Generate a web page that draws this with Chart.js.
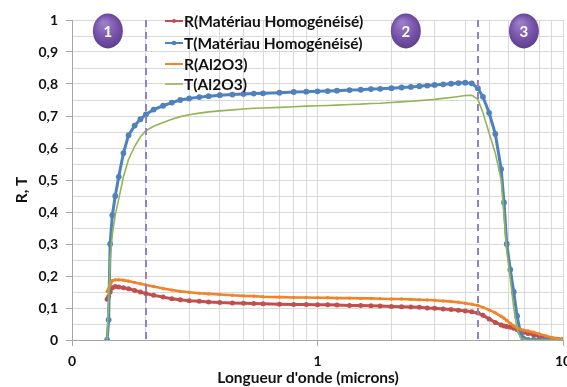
<!DOCTYPE html>
<html><head><meta charset="utf-8">
<script src="https://cdn.jsdelivr.net/npm/chart.js"></script>
<style>html,body{margin:0;padding:0;background:#fff}#wrap{width:567px;height:387px;position:relative}canvas{display:block}</style>
</head><body><div id="wrap"><canvas id="c" width="567" height="387"></canvas></div>
<script>
const wavelength = [0.139,0.141,0.143,0.146,0.15,0.155,0.162,0.17,0.18,0.19,0.2,0.215,0.235,0.255,0.276,0.3,0.33,0.36,0.4,0.45,0.5,0.55,0.6,0.7,0.8,0.9,1.0,1.1,1.2,1.35,1.5,1.65,1.8,2.0,2.2,2.4,2.6,2.8,3.0,3.25,3.5,3.75,4.0,4.25,4.5,4.72,5.0,5.3,5.6,5.75,5.9,6.1,6.3,6.5,6.7,6.9,7.2,7.6,8.0,8.5,9.0,9.5,10.0];
const rHomog = [0.127,0.135,0.15,0.163,0.167,0.166,0.163,0.16,0.155,0.15,0.145,0.14,0.134,0.129,0.126,0.123,0.121,0.119,0.117,0.116,0.115,0.114,0.113,0.112,0.111,0.111,0.11,0.11,0.109,0.108,0.108,0.107,0.106,0.105,0.104,0.103,0.102,0.1,0.099,0.097,0.095,0.093,0.091,0.088,0.084,0.077,0.066,0.055,0.047,0.044,0.042,0.04,0.037,0.033,0.028,0.024,0.02,0.016,0.011,0.007,0.004,0.002,0.001];
const tHomog = [0,0.063,0.30,0.39,0.45,0.51,0.584,0.64,0.67,0.69,0.705,0.72,0.732,0.742,0.75,0.755,0.759,0.762,0.765,0.767,0.769,0.77,0.771,0.773,0.775,0.776,0.777,0.778,0.779,0.781,0.782,0.784,0.785,0.787,0.789,0.791,0.793,0.795,0.797,0.799,0.801,0.803,0.804,0.802,0.787,0.76,0.71,0.644,0.534,0.43,0.30,0.22,0.15,0.075,0.025,0.004,0,0,0,0,0,0,0];
const rAl2O3 = [0.152,0.16,0.172,0.185,0.188,0.188,0.187,0.184,0.18,0.176,0.172,0.167,0.161,0.156,0.152,0.149,0.146,0.144,0.142,0.14,0.138,0.137,0.135,0.134,0.133,0.133,0.132,0.132,0.131,0.131,0.13,0.13,0.129,0.128,0.128,0.127,0.126,0.125,0.124,0.122,0.12,0.118,0.115,0.112,0.108,0.102,0.094,0.085,0.074,0.068,0.061,0.052,0.044,0.038,0.034,0.031,0.028,0.024,0.019,0.013,0.008,0.005,0.003];
const tAl2O3 = [0,0.12,0.25,0.33,0.39,0.44,0.51,0.565,0.605,0.635,0.654,0.668,0.68,0.69,0.698,0.704,0.709,0.713,0.716,0.719,0.722,0.724,0.725,0.727,0.729,0.731,0.732,0.733,0.734,0.736,0.737,0.739,0.74,0.742,0.744,0.746,0.748,0.75,0.752,0.755,0.758,0.761,0.764,0.765,0.752,0.71,0.647,0.584,0.5,0.39,0.28,0.19,0.1,0.035,0.008,0.002,0,0,0,0,0,0,0];
const seriesLabels = ['R(Matériau Homogénéisé)','T(Matériau Homogénéisé)','R(Al2O3)','T(Al2O3)'];
const seriesColors = ['#C0504D','#4F81BD','#F0842A','#92B556'];
const xTickValues = [0.1,0.2,0.3,0.4,0.5,0.6,0.7,0.8,0.9,1,2,3,4,5,6,7,8,9,10];
const xTickLabels = {'0.1':'0','1':'1','10':'10'};
const zoneBounds = [0.2, 4.5];
const zoneLabels = ['1','2','3'];
const zoneLabelX = [0.14, 2.29, 6.93];
const zoneLabelY = 0.966;
const xTitle = "Longueur d'onde (microns)";
const yTitle = 'R, T';

const FONT = 'Lato, "Open Sans", sans-serif';
const seriesValues = [rHomog, tHomog, rAl2O3, tAl2O3];
const pointR = [2.5, 2.9, 1.7, 0];
const lineW = [3, 3, 2.6, 1.6];

const datasets = seriesValues.map((vals, i) => ({
  label: seriesLabels[i],
  data: wavelength.map((w, k) => ({x: w, y: vals[k]})),
  showLine: true,
  borderColor: seriesColors[i],
  backgroundColor: seriesColors[i],
  borderWidth: lineW[i],
  pointRadius: pointR[i],
  pointBorderWidth: 0,
  pointHoverRadius: 0,
  tension: 0,
  order: 3 - i
}));

const overlay = {
  id: 'overlay',
  afterDatasetsDraw(chart) {
    const {ctx, chartArea: a, scales: {x, y}} = chart;
    ctx.save();
    ctx.strokeStyle = '#8F82C6';
    ctx.lineWidth = 2;
    ctx.setLineDash([7, 5]);
    zoneBounds.forEach(b => {
      const px = Math.round(x.getPixelForValue(b));
      ctx.beginPath(); ctx.moveTo(px, a.top); ctx.lineTo(px, a.bottom); ctx.stroke();
    });
    ctx.setLineDash([]);
    zoneLabels.forEach((t, i) => {
      const cx = x.getPixelForValue(zoneLabelX[i]);
      const cy = y.getPixelForValue(zoneLabelY);
      const g = ctx.createRadialGradient(cx - 4, cy - 8, 2, cx, cy, 19);
      g.addColorStop(0, '#9A7CC8');
      g.addColorStop(0.6, '#7451A6');
      g.addColorStop(1, '#5A3A8A');
      ctx.fillStyle = g;
      ctx.beginPath(); ctx.ellipse(cx, cy, 15, 17.5, 0, 0, Math.PI * 2); ctx.fill();
      ctx.fillStyle = '#fff';
      ctx.font = 'bold 15px ' + FONT;
      ctx.textAlign = 'center'; ctx.textBaseline = 'middle';
      ctx.fillText(t, cx, cy + 1);
    });
    const ly = [21, 43, 64, 84];
    ctx.font = 'bold 15.5px ' + FONT;
    ctx.textAlign = 'left'; ctx.textBaseline = 'middle';
    chart.data.datasets.forEach((ds, i) => {
      const yy = ly[i];
      ctx.strokeStyle = ds.borderColor;
      ctx.lineWidth = i === 3 ? 1.6 : 2;
      ctx.beginPath(); ctx.moveTo(165, yy); ctx.lineTo(183, yy); ctx.stroke();
      if (pointR[i] > 0) {
        ctx.fillStyle = ds.backgroundColor;
        ctx.beginPath(); ctx.arc(174, yy, pointR[i] * 0.8, 0, Math.PI * 2); ctx.fill();
      }
      ctx.fillStyle = '#111';
      ctx.fillText(ds.label, 184, yy + 1);
    });
    ctx.fillStyle = '#111';
    ctx.font = 'bold 15.5px ' + FONT;
    ctx.textAlign = 'center'; ctx.textBaseline = 'middle';
    ctx.fillText(xTitle, 308, 378);
    ctx.translate(22, 190); ctx.rotate(-Math.PI / 2);
    ctx.fillText(yTitle, 0, 0);
    ctx.restore();
  }
};

function yLabel(v) {
  const r = Math.round(v * 100);
  if (r % 10 !== 0) return '';
  if (r % 100 === 0) return String(r / 100);
  return (r / 100).toFixed(1).replace('.', ',');
}

new Chart(document.getElementById('c'), {
  type: 'scatter',
  data: {datasets},
  options: {
    responsive: false,
    animation: false,
    events: [],
    layout: {padding: {top: 20, right: 4, left: 0, bottom: 0}},
    plugins: {legend: {display: false}, tooltip: {enabled: false}},
    scales: {
      x: {
        type: 'logarithmic', min: 0.1, max: 10,
        afterBuildTicks: s => { s.ticks = xTickValues.map(v => ({value: v})); },
        afterFit: s => { s.height = 47; s.paddingLeft = 0; s.paddingRight = 0; },
        ticks: {
          autoSkip: false, maxRotation: 0, minRotation: 0, padding: 7,
          color: '#111', font: {family: FONT, size: 14, weight: 'bold'},
          callback: v => { const k = String(+v.toFixed(4)); return xTickLabels[k] !== undefined ? xTickLabels[k] : ''; }
        },
        grid: {
          color: '#D9D9D9', lineWidth: 1, tickLength: 6,
          tickColor: c => (xTickLabels[String(+c.tick.value.toFixed(4))] !== undefined ? '#A6A6A6' : 'rgba(0,0,0,0)')
        },
        border: {color: '#A6A6A6'}
      },
      y: {
        min: 0, max: 1,
        afterFit: s => { s.width = 72; s.paddingTop = 0; s.paddingBottom = 0; },
        ticks: {
          stepSize: 0.05, autoSkip: false, padding: 8,
          color: '#111', font: {family: FONT, size: 14, weight: 'bold'},
          callback: v => yLabel(v)
        },
        grid: {
          color: '#D9D9D9', lineWidth: 1, tickLength: 6,
          tickColor: c => (Math.round(c.tick.value * 100) % 10 === 0 ? '#A6A6A6' : 'rgba(0,0,0,0)')
        },
        border: {color: '#A6A6A6'}
      }
    }
  },
  plugins: [overlay]
});
</script>
</body></html>
